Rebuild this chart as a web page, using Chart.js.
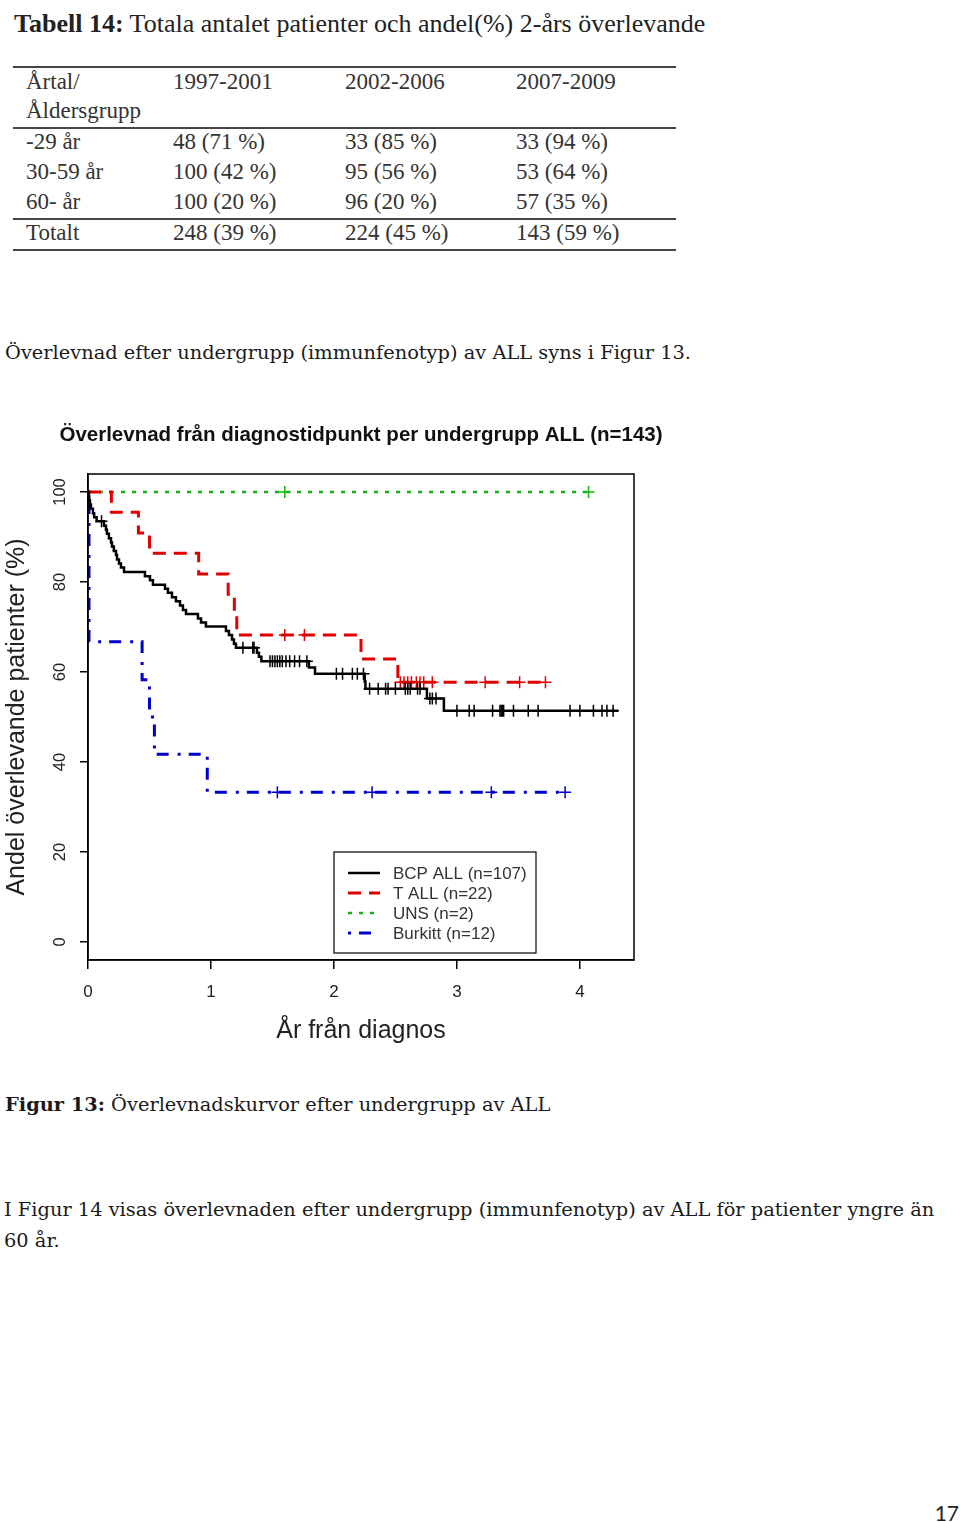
<!DOCTYPE html>
<html>
<head>
<meta charset="utf-8">
<script src="https://cdn.jsdelivr.net/npm/chart.js@4.4.1/dist/chart.umd.min.js"></script>
<style>
  body { margin: 0; background: #fff; }
  #page { position: relative; width: 960px; height: 1522px; overflow: hidden; color: #222; }
  .tx { position: absolute; white-space: nowrap; height: 30px; line-height: 30px; }
  .tab { font-family: "Liberation Serif", serif; font-size: 23px; color: #333; }
  .body { font-family: "DejaVu Serif", serif; font-size: 19.4px; color: #1a1a1a; }
  .rule { position: absolute; left: 13px; width: 663px; height: 0; border-top: 2px solid #444; }
  #chartWrap { position: absolute; left: 0; top: 400px; width: 700px; height: 660px; }
</style>
</head>
<body>
<div id="page">
  <div class="tx tab" style="left:14px;top:9px;font-size:26px;color:#222;"><b>Tabell 14:</b> Totala antalet patienter och andel(%) 2-års överlevande</div>

  <div class="rule" style="top:66px;"></div>
  <div class="tx tab" style="left:26px;top:67px;">Årtal/</div>
  <div class="tx tab" style="left:26px;top:96px;">Åldersgrupp</div>
  <div class="tx tab" style="left:173px;top:67px;">1997-2001</div>
  <div class="tx tab" style="left:345px;top:67px;">2002-2006</div>
  <div class="tx tab" style="left:516px;top:67px;">2007-2009</div>
  <div class="rule" style="top:127px;"></div>
  <div class="tx tab" style="left:26px;top:127px;">-29 år</div>
  <div class="tx tab" style="left:173px;top:127px;">48 (71 %)</div>
  <div class="tx tab" style="left:345px;top:127px;">33 (85 %)</div>
  <div class="tx tab" style="left:516px;top:127px;">33 (94 %)</div>
  <div class="tx tab" style="left:26px;top:157px;">30-59 år</div>
  <div class="tx tab" style="left:173px;top:157px;">100 (42 %)</div>
  <div class="tx tab" style="left:345px;top:157px;">95 (56 %)</div>
  <div class="tx tab" style="left:516px;top:157px;">53 (64 %)</div>
  <div class="tx tab" style="left:26px;top:187px;">60- år</div>
  <div class="tx tab" style="left:173px;top:187px;">100 (20 %)</div>
  <div class="tx tab" style="left:345px;top:187px;">96 (20 %)</div>
  <div class="tx tab" style="left:516px;top:187px;">57 (35 %)</div>
  <div class="rule" style="top:218px;"></div>
  <div class="tx tab" style="left:26px;top:218px;">Totalt</div>
  <div class="tx tab" style="left:173px;top:218px;">248 (39 %)</div>
  <div class="tx tab" style="left:345px;top:218px;">224 (45 %)</div>
  <div class="tx tab" style="left:516px;top:218px;">143 (59 %)</div>
  <div class="rule" style="top:249px;"></div>

  <div class="tx body" style="left:5px;top:338px;">Överlevnad efter undergrupp (immunfenotyp) av ALL syns i Figur 13.</div>

  <div id="chartWrap"><canvas id="kmChart" width="700" height="660"></canvas></div>

  <div class="tx body" style="left:5px;top:1090px;"><b>Figur 13:</b> Överlevnadskurvor efter undergrupp av ALL</div>
  <div class="tx body" style="left:4px;top:1195px;">I Figur 14 visas överlevnaden efter undergrupp (immunfenotyp) av ALL för patienter yngre än</div>
  <div class="tx body" style="left:4px;top:1226px;">60 år.</div>
  <div class="tx" style="right:1px;top:1498px;font-family:Lato,sans-serif;font-size:21px;color:#222;">17</div>
</div>

<script>
// Kaplan-Meier steps: time (years) and survival (%) after each step
const bcpTimes = [0, 0.005, 0.01, 0.016, 0.024, 0.04, 0.05, 0.07, 0.13, 0.146, 0.154, 0.17, 0.187, 0.195,
  0.21, 0.228, 0.236, 0.252, 0.268, 0.293, 0.463, 0.504, 0.528, 0.626, 0.65, 0.683, 0.715, 0.748, 0.772,
  0.797, 0.894, 0.919, 0.959, 1.122, 1.146, 1.171, 1.187, 1.203, 1.374, 1.39, 1.41, 1.797, 1.846, 2.25,
  2.256, 2.756, 2.894, 4.31];
const bcpSurv = [100, 99.1, 98.1, 97.2, 96.3, 95.3, 94.4, 93.5, 92.5, 91.6, 90.7, 89.7, 88.8, 87.9,
  86.9, 86.0, 85.0, 84.1, 83.2, 82.2, 81.3, 80.4, 79.4, 78.5, 77.6, 76.6, 75.7, 74.8, 73.8,
  72.9, 71.9, 71.0, 70.1, 69.1, 68.2, 67.2, 66.3, 65.4, 64.3, 63.4, 62.4, 61.0, 59.6, 57.9,
  56.3, 54.1, 51.4, 51.4];
const bcpCensor = [0.11, 1.26, 1.34, 1.35, 1.48, 1.5, 1.52, 1.54, 1.56, 1.58, 1.61, 1.64, 1.68, 1.72, 1.78,
  2.02, 2.07, 2.15, 2.19, 2.24, 2.29, 2.36, 2.42, 2.44, 2.5, 2.58, 2.6, 2.62, 2.68, 2.7, 2.78, 2.8, 2.83,
  3.0, 3.1, 3.14, 3.29, 3.35, 3.36, 3.37, 3.38, 3.46, 3.58, 3.66, 3.92, 4.0, 4.11, 4.18, 4.22, 4.27];

const tallTimes = [0, 0.19, 0.41, 0.5, 0.9, 1.14, 1.19, 1.21, 2.22, 2.52, 3.74];
const tallSurv = [100, 95.5, 90.9, 86.4, 81.8, 77.3, 72.7, 68.2, 62.9, 57.7, 57.7];
const tallCensor = [1.6, 1.76, 2.54, 2.57, 2.6, 2.63, 2.67, 2.7, 2.73, 2.8, 3.23, 3.51, 3.72];

const unsTimes = [0, 4.07];
const unsSurv = [100, 100];
const unsCensor = [1.6, 4.07];

const burTimes = [0, 0.008, 0.44, 0.5, 0.54, 0.97, 3.88];
const burSurv = [100, 66.7, 58.3, 50.0, 41.7, 33.3, 33.3];
const burCensor = [1.54, 2.31, 3.28, 3.88];

const groupNames = ['BCP ALL (n=107)', 'T ALL (n=22)', 'UNS (n=2)', 'Burkitt (n=12)'];
const xTicks = [0, 1, 2, 3, 4];
const yTicks = [0, 20, 40, 60, 80, 100];

const colors = ['#000000', '#e00000', '#14b414', '#0000cc'];
const dashes = [[], [13, 8], [4, 7], [3, 8, 12, 9]];
const widths = [2.5, 3, 2.5, 3];
const font = '"Liberation Sans", Arial, sans-serif';

function survAt(times, surv, t) {
  let v = surv[0];
  for (let i = 0; i < times.length; i++) if (times[i] <= t) v = surv[i];
  return v;
}

const groups = [
  [bcpTimes, bcpSurv, bcpCensor],
  [tallTimes, tallSurv, tallCensor],
  [unsTimes, unsSurv, unsCensor],
  [burTimes, burSurv, burCensor]
];

const datasets = [];
groups.forEach(([times, surv, cens], i) => {
  datasets.push({
    data: times.map((t, k) => ({ x: t, y: surv[k] })),
    borderColor: colors[i], borderWidth: widths[i], borderDash: dashes[i],
    stepped: 'before', pointRadius: 0, fill: false
  });
  datasets.push({
    type: 'scatter',
    data: cens.map(t => ({ x: t, y: survAt(times, surv, t) })),
    showLine: false, pointStyle: 'cross', pointRadius: 6,
    borderColor: colors[i], borderWidth: 1.5
  });
});

const decor = {
  id: 'decor',
  afterDraw(chart) {
    const { ctx, chartArea: a } = chart;
    ctx.save();
    ctx.strokeStyle = '#000';
    ctx.lineWidth = 1.5;
    ctx.strokeRect(a.left, a.top, a.right - a.left, a.bottom - a.top);

    ctx.fillStyle = '#111';
    ctx.font = 'bold 20.5px ' + font;
    ctx.textAlign = 'center';
    ctx.textBaseline = 'middle';
    ctx.fillText('Överlevnad från diagnostidpunkt per undergrupp ALL (n=143)', (a.left + a.right) / 2, a.top - 39);

    // legend box
    const bx = a.left + 246, by = a.bottom - 108, bw = 202, bh = 101;
    ctx.fillStyle = '#fff';
    ctx.fillRect(bx, by, bw, bh);
    ctx.lineWidth = 1.2;
    ctx.strokeRect(bx, by, bw, bh);
    ctx.font = '17px ' + font;
    ctx.textAlign = 'left';
    groupNames.forEach((name, i) => {
      const y = by + 21 + i * 20;
      ctx.beginPath();
      ctx.strokeStyle = colors[i];
      ctx.lineWidth = widths[i];
      ctx.setLineDash(dashes[i]);
      ctx.moveTo(bx + 14, y);
      ctx.lineTo(bx + 46, y);
      ctx.stroke();
      ctx.setLineDash([]);
      ctx.fillStyle = '#333';
      ctx.fillText(name, bx + 59, y + 1);
    });
    ctx.restore();
  }
};

new Chart(document.getElementById('kmChart'), {
  type: 'line',
  data: { datasets },
  options: {
    responsive: false,
    animation: false,
    layout: { padding: { top: 74, right: 66, left: 0, bottom: 0 } },
    plugins: { legend: { display: false }, title: { display: false }, tooltip: { enabled: false } },
    scales: {
      x: {
        type: 'linear', min: 0, max: 4.44,
        afterBuildTicks: ax => { ax.ticks = xTicks.map(v => ({ value: v })); },
        afterFit: ax => { ax.height = 100; },
        grid: { drawOnChartArea: false, drawTicks: true, tickLength: 9, color: '#000', lineWidth: 1.5 },
        border: { display: true, color: '#000', width: 1.5 },
        ticks: { font: { family: font, size: 17 }, color: '#222', padding: 13, maxRotation: 0 },
        title: { display: true, text: 'År från diagnos', color: '#222', font: { family: font, size: 25 }, padding: { top: 0, bottom: 14 } }
      },
      y: {
        type: 'linear', min: -4, max: 104,
        afterBuildTicks: ax => { ax.ticks = yTicks.map(v => ({ value: v })); },
        afterFit: ax => { ax.width = 88; },
        grid: { drawOnChartArea: false, drawTicks: true, tickLength: 8, color: '#000', lineWidth: 1.5 },
        border: { display: true, color: '#000', width: 1.5 },
        ticks: { font: { family: font, size: 16.5 }, color: '#222', minRotation: 90, maxRotation: 90, crossAlign: 'center', padding: 6 },
        title: { display: true, text: 'Andel överlevande patienter (%)', color: '#222', font: { family: font, size: 25 }, padding: { top: 2, bottom: 0 } }
      }
    }
  },
  plugins: [decor]
});
</script>
</body>
</html>
